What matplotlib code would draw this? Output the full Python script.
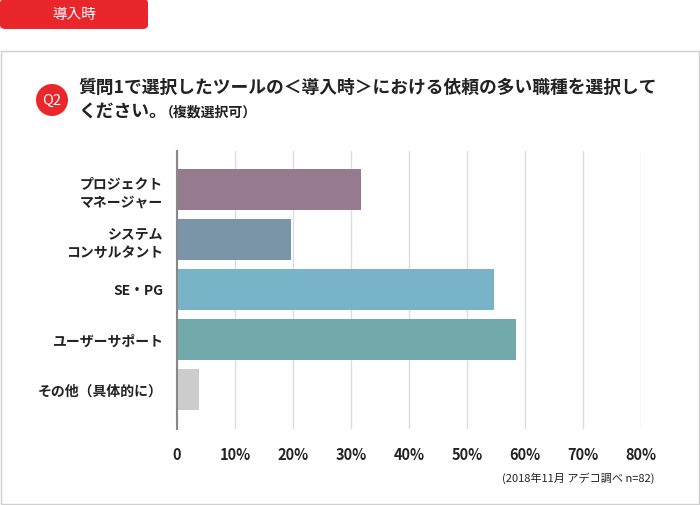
import matplotlib
matplotlib.use("Agg")
import matplotlib.pyplot as plt
from matplotlib.patches import FancyBboxPatch, Rectangle, Ellipse

categories = ["プロジェクト\nマネージャー", "システム\nコンサルタント", "SE・PG", "ユーザーサポート", "その他（具体的に）"]
values = [31.7, 19.7, 54.7, 58.4, 3.8]
colors = ["#957b8d", "#7a95a8", "#79b3c7", "#72a9ab", "#cccccc"]
xticks = [0, 10, 20, 30, 40, 50, 60, 70, 80]
xticklabels = ["0", "10%", "20%", "30%", "40%", "50%", "60%", "70%", "80%"]

plt.rcParams["font.family"] = "Noto Sans CJK JP"
W, H = 700, 506
fig = plt.figure(figsize=(7, 5.06), dpi=100)

def fx(x): return x / W
def fy(y): return 1 - y / H

# tab
fig.patches.append(FancyBboxPatch((fx(0), fy(30)), fx(148), 30 / H, boxstyle="round,pad=0,rounding_size=0.008",
                                  transform=fig.transFigure, fc="#e8262c", ec="none"))
fig.text(fx(74), fy(15), "導入時", color="white", fontsize=10.5, ha="center", va="center")
# box
fig.patches.append(Rectangle((fx(1), fy(505)), fx(698), 453 / H, transform=fig.transFigure,
                             fc="none", ec="#d0d0d0", lw=1, zorder=-5))
# Q2 circle
fig.patches.append(Ellipse((fx(52), fy(101)), 32 / W, 32 / H, transform=fig.transFigure, fc="#e8262c", ec="none"))
fig.text(fx(52), fy(101), "Q2", color="white", fontsize=10.5, ha="center", va="center")
fig.text(fx(78), fy(88), "質問1で選択したツールの＜導入時＞における依頼の多い職種を選択して",
         fontsize=12.8, fontweight="bold", va="center", color="#222222")
fig.text(fx(78), fy(113), "ください。", fontsize=12.8, fontweight="bold", va="center", color="#222222")
fig.text(fx(160), fy(113), "（複数選択可）", fontsize=10, fontweight="bold", va="center", color="#222222")

ax = fig.add_axes([fx(177), fy(430), fx(641 - 177), (430 - 152) / H])
ax.set_zorder(5)
ax.patch.set_alpha(0)
y = list(range(len(categories)))
ax.barh(y, values, height=0.82, color=colors)
ax.set_ylim(4.8, -0.76)
ax.set_xlim(0, 80)
ax.set_xticks(xticks)
ax.set_xticklabels(xticklabels, fontsize=10.5, fontweight="bold", color="#222222")
ax.set_yticks(y)
ax.set_yticklabels(categories, fontsize=10, fontweight="bold", color="#222222", ha="right", linespacing=1.4)
ax.tick_params(length=0, pad=10)
ax.tick_params(axis="x", pad=12)
ax.xaxis.grid(True, color="#dddddd", lw=1)
ax.set_axisbelow(True)
for s in ["top", "right", "bottom"]:
    ax.spines[s].set_visible(False)
ax.spines["left"].set_color("#888888")
ax.spines["left"].set_linewidth(1.5)

fig.text(fx(655), fy(478), "(2018年11月 アデコ調べ n=82)", fontsize=8, ha="right", va="center", color="#222222")
fig.savefig("out.png", dpi=100)
